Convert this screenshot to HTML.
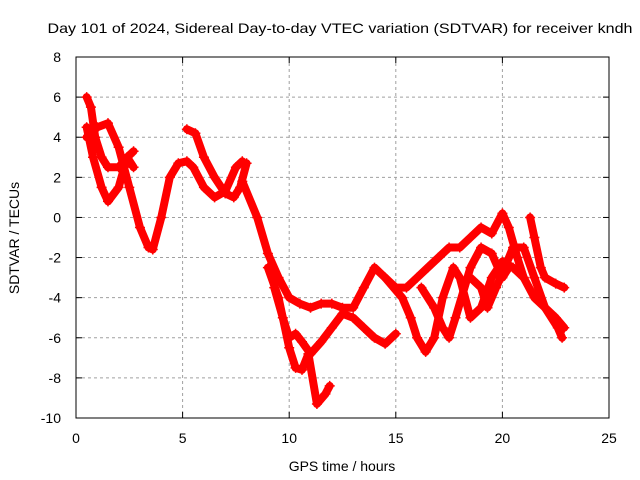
<!DOCTYPE html>
<html><head><meta charset="utf-8"><style>
body{margin:0;background:#fff}
svg{display:block;font-family:"Liberation Sans",sans-serif;font-size:14px}
</style></head><body>
<svg id="chart" width="640" height="480">
<text x="340" y="33" text-anchor="middle" textLength="585" lengthAdjust="spacingAndGlyphs">Day 101 of 2024, Sidereal Day-to-day VTEC variation (SDTVAR) for receiver kndh</text>
<text x="342" y="471" text-anchor="middle">GPS time / hours</text>
<text transform="translate(19,238) rotate(-90)" text-anchor="middle">SDTVAR / TECUs</text>
<g id="grid"></g>
<g id="series"></g>
<rect x="76" y="57" width="533" height="361" fill="none" stroke="#000"/>
</svg>
<script>
const xTicks=[0,5,10,15,20,25];
const yTicks=[-10,-8,-6,-4,-2,0,2,4,6,8];
const trackA=[[0.5,6],[0.7,5.5],[0.9,4],[1.2,3],[1.5,2.5],[2,2.5],[2.4,3],[2.7,3.3]];
const trackB=[[0.5,4.5],[0.8,3],[1.2,1.5],[1.5,0.8],[2,1.5],[2.4,3],[2.7,2.5]];
const trackC=[[0.5,4],[1,4.5],[1.5,4.7],[2,3.5],[2.5,1.5],[3,-0.5],[3.4,-1.5],[3.6,-1.6],[4,0],[4.4,2],[4.8,2.7],[5.2,2.8],[5.5,2.5],[6,1.5],[6.5,1],[7,1.3],[7.5,2.5],[7.8,2.8]];
const trackD=[[5.2,4.4],[5.6,4.2],[6,3],[6.5,2],[7,1.2],[7.4,1],[7.7,1.5],[8,2.7]];
const trackMain=[[7.8,1.8],[8.5,0],[9,-1.8],[9.5,-3],[10,-4],[10.5,-4.3],[11,-4.5],[11.5,-4.3],[12,-4.3],[12.5,-4.5],[13,-4.5],[13.5,-3.5],[14,-2.5],[14.5,-3],[15,-3.5],[15.5,-3.5],[16,-3],[16.5,-2.5],[17,-2],[17.5,-1.5],[18,-1.5],[18.5,-1],[19,-0.5],[19.5,-0.8],[20,0.2],[20.3,-0.5],[20.7,-2],[21,-3],[21.5,-4],[22,-4.5],[22.5,-5],[22.9,-5.5]];
const trackE=[[9,-2.5],[9.5,-4],[10,-6.5],[10.3,-7.5],[10.6,-7.6],[10.9,-6.8],[11.3,-9.3],[11.7,-8.8],[11.9,-8.4]];
const trackF=[[9.3,-3.5],[9.7,-5],[10,-6],[10.3,-5.8],[10.6,-6.2],[11,-6.8],[11.5,-6.2],[12,-5.5],[12.5,-4.8],[13,-5],[13.5,-5.5],[14,-6],[14.5,-6.3],[15,-5.8]];
const trackG=[[14.5,-3],[15.3,-4],[15.7,-5],[16,-6],[16.4,-6.7],[16.8,-6],[17.2,-4],[17.7,-2.5],[18,-3],[18.5,-5],[19,-4.5],[19.5,-3],[20,-2.2],[20.5,-2.5],[21,-3]];
const trackH=[[16.2,-3.5],[16.8,-4.5],[17.2,-5.5],[17.5,-6],[17.8,-5],[18.5,-2.5],[19,-1.5],[19.5,-1.8],[20,-3],[20.3,-2.5]];
const trackI=[[21.3,0],[21.5,-1],[21.8,-2.5],[22,-3],[22.5,-3.3],[22.9,-3.5]];
const trackJ=[[18.5,-3],[19,-3.5],[19.3,-4.5],[19.7,-3.5],[20,-2.8],[20.5,-1.5],[21,-1.5],[21.5,-3],[22,-4.5],[22.6,-5.5],[22.8,-6]];
const tracks=[trackA,trackB,trackC,trackD,trackMain,trackE,trackF,trackG,trackH,trackI,trackJ];
const NS="http://www.w3.org/2000/svg";
const X=v=>76+v*533/25, Y=v=>418-(v+10)*361/18;
const grid=document.getElementById('grid'), ser=document.getElementById('series');
function mk(tag,attrs,parent){const e=document.createElementNS(NS,tag);for(const k in attrs)e.setAttribute(k,attrs[k]);parent.appendChild(e);return e;}
xTicks.forEach(t=>{
  if(t>0&&t<25){const l=mk('line',{x1:X(t),x2:X(t),y1:57,y2:418,stroke:'#a0a0a0','stroke-dasharray':'3,3'},grid);
  
  }
  mk('line',{x1:X(t),x2:X(t),y1:418,y2:412,stroke:'#000'},grid);
  mk('line',{x1:X(t),x2:X(t),y1:57,y2:63,stroke:'#000'},grid);
  const tx=mk('text',{x:X(t),y:443,'text-anchor':'middle'},grid);tx.textContent=t;
  
  
});
yTicks.forEach(t=>{
  if(t>-10&&t<8){const l=mk('line',{x1:76,x2:609,y1:Y(t),y2:Y(t),stroke:'#a0a0a0','stroke-dasharray':'3,3'},grid);
  
  }
  mk('line',{x1:76,x2:82,y1:Y(t),y2:Y(t),stroke:'#000'},grid);
  mk('line',{x1:609,x2:603,y1:Y(t),y2:Y(t),stroke:'#000'},grid);
  const tx=mk('text',{x:61,y:Y(t)+5,'text-anchor':'end'},grid);tx.textContent=t;
  
  
});
tracks.forEach(tr=>{
  const p=mk('polyline',{points:tr.map(d=>X(d[0])+','+Y(d[1])).join(' '),fill:'none',stroke:'#f00','stroke-width':8,'stroke-linejoin':'round','stroke-linecap':'round'},ser);
  
  
  tr.forEach(d=>{
    const m=mk('path',{d:`M${X(d[0])-5},${Y(d[1])}h10M${X(d[0])},${Y(d[1])-5}v10`,stroke:'#f00','stroke-width':1.5},ser);
    
    
  });
});
</script>
</body></html>
